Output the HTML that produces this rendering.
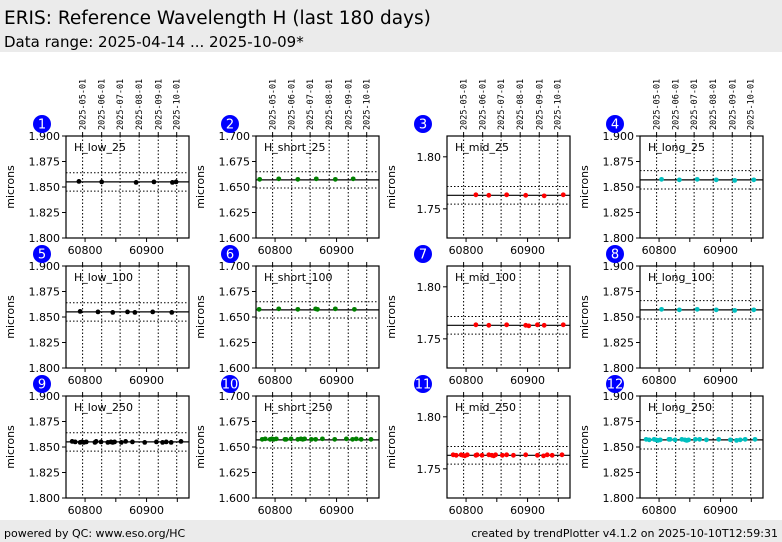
<!DOCTYPE html>
<html><head><meta charset="utf-8"><style>
body{margin:0;background:#fff;font-family:"DejaVu Sans","Liberation Sans",sans-serif;}
svg{display:block}
</style></head><body>
<svg id="c" width="782" height="542" xmlns="http://www.w3.org/2000/svg" font-family="DejaVu Sans, Liberation Sans, sans-serif">
<rect x="0" y="0" width="782" height="52" fill="#ebebeb"/>
<text x="4" y="24" font-size="18.5" fill="#000">ERIS: Reference Wavelength H (last 180 days)</text>
<text x="4" y="47" font-size="15" fill="#000">Data range: 2025-04-14 ... 2025-10-09*</text>
<rect x="0" y="520" width="782" height="22" fill="#ebebeb"/>
<text x="4" y="537" font-size="11">powered by QC: www.eso.org/HC</text>
<text x="778" y="537" font-size="11" text-anchor="end">created by trendPlotter v4.1.2 on 2025-10-10T12:59:31</text>
<g id="panels"></g>
</svg>
<script>
const panelNames=["H_low_25","H_short_25","H_mid_25","H_long_25","H_low_100","H_short_100","H_mid_100","H_long_100","H_low_250","H_short_250","H_mid_250","H_long_250"];
const xR1=[[60790,60827,60883,60912,60942,60948],[60775,60806,60837,60867,60898,60927],[60816,60837,60866,60897,60927,60958],[60804,60833,60862,60893,60923,60954]];
const xR2=[[60792,60821,60845,60869,60881,60910,60941],[60774,60806,60837,60866,60869,60898,60929],[60816,60837,60866,60897,60902,60916,60927,60958],[60804,60833,60862,60893,60923,60954]];
const xR3=[60779,60784,60792,60795,60798,60802,60816,60818,60826,60837,60842,60845,60848,60859,60866,60877,60897,60916,60926,60932,60940,60956];
const yCol=[[1.8555,1.855,1.8545,1.855,1.8545,1.855,1.8545],[1.6575,1.658,1.6575,1.658,1.6575,1.658,1.6575],[1.7635,1.763,1.7635,1.763,1.7625,1.7635,1.763],[1.8575,1.857,1.8575,1.857,1.8565,1.857,1.8575]];
const medians=[1.855,1.657,1.763,1.857];
const bandHalf=[0.009,0.008,0.0085,0.009];
const yMin=[1.8,1.6,1.722,1.8];
const yMax=[1.9,1.7,1.820,1.9];
const yTicks=[[1.8,1.825,1.85,1.875,1.9],[1.6,1.625,1.65,1.675,1.7],[1.75,1.8],[1.8,1.825,1.85,1.875,1.9]];
const yTickLabels=[["1.800","1.825","1.850","1.875","1.900"],["1.600","1.625","1.650","1.675","1.700"],["1.75","1.80"],["1.800","1.825","1.850","1.875","1.900"]];
const dateMjd=[60796,60827,60857,60888,60919,60949];
const dateLabels=["2025-05-01","2025-06-01","2025-07-01","2025-08-01","2025-09-01","2025-10-01"];
const xTicks=[60800,60850,60900,60950];
const xTickLabels=["60800","","60900",""];
const colors=["#000","#008000","#ff0000","#00bfbf"];
const X0=60769,X1=60969;
const colL=[66,256,447,640],W=123,rowT=[136,266,396],H=102;
const NS="http://www.w3.org/2000/svg";
const root=document.getElementById('panels');
function mk(t,a,p){const e=document.createElementNS(NS,t);for(const k in a)e.setAttribute(k,a[k]);(p||root).appendChild(e);return e;}
for(let r=0;r<3;r++)for(let c=0;c<4;c++){
 const i=r*4+c,L=colL[c],T=rowT[r];
 const g=mk('g',{});
 
 
 const sx=v=>L+(v-X0)/(X1-X0)*W, sy=v=>T+H-(v-yMin[c])/(yMax[c]-yMin[c])*H;
 mk('rect',{x:L,y:T,width:W,height:H,fill:'#fff'},g);
 dateMjd.forEach((d,k)=>{const x=sx(d);mk('line',{x1:x,x2:x,y1:T,y2:T+H,stroke:'#000','stroke-width':1,'stroke-dasharray':'1.5,2'},g);
  mk('line',{x1:x,x2:x,y1:T,y2:T-4,stroke:'#000'},g);
  if(r===0){const t=mk('text',{x:0,y:0,'font-size':8.5,'font-family':'DejaVu Sans Mono, Liberation Mono, monospace',transform:`translate(${x+3},${T-6}) rotate(-90)`},g);t.textContent=dateLabels[k];
   
   }
 });
 const m=medians[c],b=bandHalf[c];
 [m-b,m+b].forEach(v=>mk('line',{x1:L,x2:L+W,y1:sy(v),y2:sy(v),stroke:'#000','stroke-dasharray':'1.5,2'},g));
 mk('line',{x1:L,x2:L+W,y1:sy(m),y2:sy(m),stroke:'#000','stroke-width':1.2},g);
 const xs=r===0?xR1[c]:r===1?xR2[c]:xR3;
 xs.forEach((xv,k)=>{const yv=yCol[c][k%yCol[c].length];const p=mk('circle',{cx:sx(xv),cy:sy(yv),r:2.4,fill:colors[c]},g);
  
  });
 mk('rect',{x:L,y:T,width:W,height:H,fill:'none',stroke:'#000','stroke-width':1.2},g);
 yTicks[c].forEach((v,k)=>{const y=sy(v);mk('line',{x1:L-4,x2:L,y1:y,y2:y,stroke:'#000'},g);
  const t=mk('text',{x:L-6,y:y+4,'font-size':11,'text-anchor':'end'},g);t.textContent=yTickLabels[c][k];});
 xTicks.forEach((v,k)=>{const x=sx(v);mk('line',{x1:x,x2:x,y1:T+H,y2:T+H+4,stroke:'#000'},g);
  if(xTickLabels[k]){const t=mk('text',{x:x,y:T+H+16,'font-size':11,'text-anchor':'middle'},g);t.textContent=xTickLabels[k];}});
 const yl=mk('text',{transform:`translate(${L-52},${T+H/2}) rotate(-90)`,'font-size':11,'text-anchor':'middle'},g);yl.textContent='microns';
 
 
 const nt=mk('text',{x:L+8,y:T+15,'font-size':11},g);nt.textContent=panelNames[i];
 
 
 const bx=[42,230,423,615][c],by=T-12;
 const bc=mk('circle',{cx:bx,cy:by,r:9,fill:'#0000ff'},g);
 
 
 const bt=mk('text',{x:bx,y:by+4.5,'font-size':13,'text-anchor':'middle',fill:'#fff'},g);bt.textContent=String(i+1);
}
</script>
</body></html>
